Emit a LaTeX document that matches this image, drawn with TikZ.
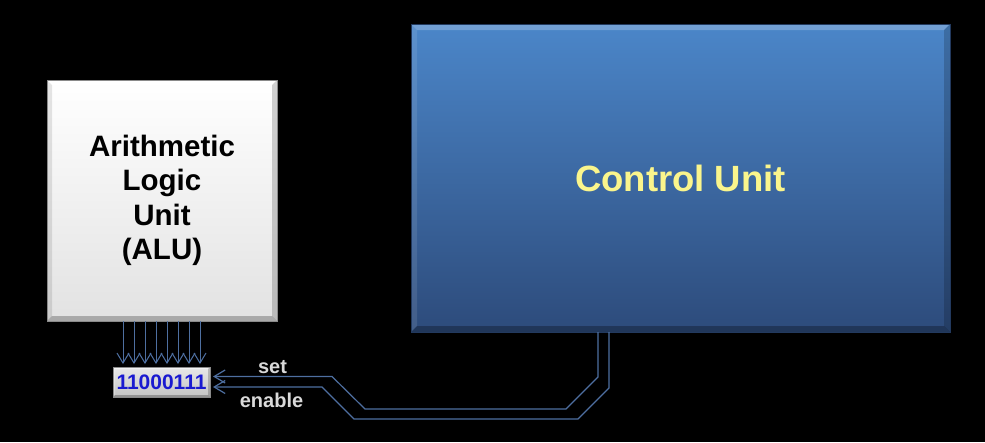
\documentclass[tikz,border=0pt]{standalone}
\usepackage{fontspec}
\setmainfont{Liberation Sans}
\usetikzlibrary{arrows.meta,calc}
\definecolor{linecol}{HTML}{4E6FA0}
\definecolor{cuTop}{HTML}{4B86C9}
\definecolor{cuBot}{HTML}{2D4B7B}
\definecolor{cuEdge}{HTML}{22395E}
\definecolor{aluBot}{HTML}{E2E2E2}
\definecolor{aluEdge}{HTML}{8A8A8A}
\definecolor{regTop}{HTML}{E8E8E8}
\definecolor{regBot}{HTML}{C4C4C4}
\definecolor{regText}{HTML}{1A1AD0}
\definecolor{cuText}{HTML}{FAF58C}
\definecolor{lblText}{HTML}{D9D9D9}
\newcommand\bevelrect[6]{%
  \fill[#3] (#1.north west) -- (#1.north east) -- ($(#1.north east)+(-#2,#2)$) -- ($(#1.north west)+(#2,#2)$) -- cycle;
  \fill[#4] (#1.north west) -- ($(#1.north west)+(#2,#2)$) -- ($(#1.south west)+(#2,-#2)$) -- (#1.south west) -- cycle;
  \fill[#5] (#1.south west) -- (#1.south east) -- ($(#1.south east)+(-#2,-#2)$) -- ($(#1.south west)+(#2,-#2)$) -- cycle;
  \fill[#6] (#1.north east) -- ($(#1.north east)+(-#2,#2)$) -- ($(#1.south east)+(-#2,-#2)$) -- (#1.south east) -- cycle;
}
\tikzset{
  alubox/.style={draw=aluEdge, line width=1pt, top color=white, bottom color=aluBot,
    inner sep=0pt, outer sep=0pt},
  cubox/.style={draw=cuEdge, line width=1pt, top color=cuTop, bottom color=cuBot,
    inner sep=0pt, outer sep=0pt},
  regbox/.style={draw=aluEdge, line width=1pt, top color=regTop, bottom color=regBot,
    inner sep=0pt, outer sep=0pt},
  cutext/.style={font=\bfseries\fontsize{36.5}{40}\selectfont, text=cuText},
  lbl/.style={text=lblText, font=\bfseries\fontsize{20}{24}\selectfont, inner sep=0pt},
  darr/.style={draw=linecol, line width=1pt, -{Straight Barb[length=10pt,width=12pt]}},
  sig/.style={draw=linecol, line width=1.2pt, line join=miter},
  sigarr/.style={sig, {Straight Barb[length=11pt,width=13pt]}-}
}
\begin{document}
\begin{tikzpicture}[x=1pt,y=-1pt]
\fill[black] (0,0) rectangle (985,442);
\useasboundingbox (0,0) rectangle (985,442);

% Control unit
\node[cubox, minimum width=539pt, minimum height=308pt] (cu) at (680.5,178) {};
\bevelrect{cu}{6}{white,opacity=0.22}{white,opacity=0.10}{black,opacity=0.28}{black,opacity=0.18}
\draw[cuEdge, line width=1pt] (cu.north west) rectangle (cu.south east);
\node[cutext] (cutxt) at (cu.center) {Control Unit};

% ALU
\node[alubox, minimum width=230pt, minimum height=241pt] (alu) at (162,200.5) {};
\bevelrect{alu}{5}{white,opacity=0.6}{black,opacity=0.10}{black,opacity=0.25}{black,opacity=0.18}
\draw[aluEdge, line width=1pt] (alu.north west) rectangle (alu.south east);
\node[align=center, text=black, font=\bfseries\fontsize{29.5}{34.5}\selectfont] (alutxt) at (alu.center) {Arithmetic\\Logic\\Unit\\(ALU)};

% Register
\node[regbox, minimum width=97pt, minimum height=30pt] (reg) at (161.5,382) {};
\bevelrect{reg}{2}{white,opacity=0.5}{white,opacity=0.3}{black,opacity=0.25}{black,opacity=0.2}
\draw[aluEdge, line width=1pt] (reg.north west) rectangle (reg.south east);
\node[text=regText, font=\bfseries\fontsize{21}{24}\selectfont] (regtxt) at (reg.center) {11000111};

% Data arrows ALU -> register
\foreach \i in {0,...,7}{
  \draw[darr] ($(alu.south west)+(76+11*\i,0)$) -- ($(reg.north west)+(10+11*\i,-3)$);
}

% Control lines
\coordinate (s0) at ($(reg.east)+(3,-5.5)$);
\coordinate (e0) at ($(reg.east)+(3,5)$);
\coordinate (s5) at ($(cu.south west)+(187,0)$);
\coordinate (e5) at ($(cu.south west)+(198,0)$);
\draw[sigarr] (s0) -- (332,376.5) -- (365,409) -- (566,409) -- (598,377) -- (s5);
\draw[sigarr] (e0) -- (322,387) -- (354,419) -- (578,419) -- (609,388) -- (e5);

\node[lbl] (setlbl) at (272.5,367) {set};
\node[lbl] (enlbl) at (271.5,400) {enable};
\end{tikzpicture}
\end{document}
